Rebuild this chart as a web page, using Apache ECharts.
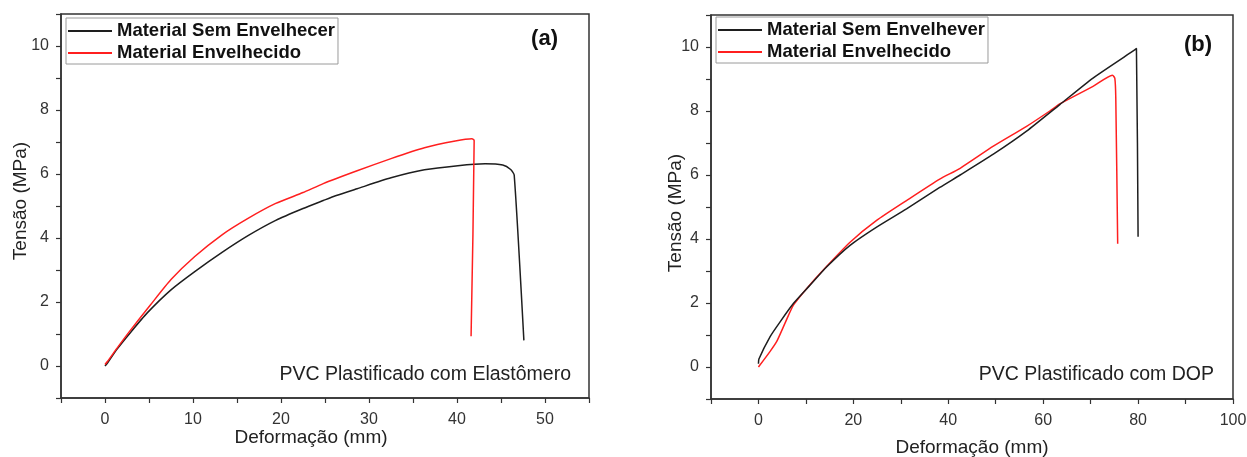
<!DOCTYPE html>
<html><head><meta charset="utf-8">
<script src="https://cdn.jsdelivr.net/npm/echarts@6/dist/echarts.min.js"></script>
<style>html,body{margin:0;padding:0;background:#fff}#c{width:1247px;height:457px}</style>
</head><body><div id="c"></div>
<script>
const FONT = '"Liberation Sans", Arial, Helvetica, sans-serif';

// ---- Data ----
const seriesNamesA = ['Material Sem Envelhecer', 'Material Envelhecido'];
const seriesNamesB = ['Material Sem Envelhever', 'Material Envelhecido'];

// (a) PVC plastificado com elastômero
const aSemX = [0, 0.3, 1.35, 2.9, 4.8, 7.5, 10.2, 13.3, 16.3, 19.4, 22.5, 24.8, 26.2, 28.65, 32.5, 36.3, 40.1, 43.2, 45.2, 46.1, 46.5, 47.6];
const aSemY = [0, 0.1, 0.52, 1.05, 1.66, 2.38, 2.95, 3.55, 4.08, 4.55, 4.92, 5.17, 5.32, 5.54, 5.88, 6.13, 6.26, 6.32, 6.28, 6.14, 5.97, 0.8];
const aEnvX = [0, 0.3, 1.35, 2.9, 5.2, 7.5, 10.2, 13.3, 16.3, 19.4, 22.5, 24.8, 28.65, 32.5, 36.3, 39.8, 41.7, 41.95, 41.6];
const aEnvY = [0.05, 0.15, 0.55, 1.12, 1.92, 2.7, 3.42, 4.1, 4.62, 5.08, 5.42, 5.7, 6.1, 6.48, 6.82, 7.03, 7.1, 7.05, 0.93];

// (b) PVC plastificado com DOP
const bSemX = [0, 0.1, 2.46, 4.6, 7.4, 10.9, 14.4, 19.3, 24.9, 31.2, 38.2, 42.5, 49.5, 56.5, 63.5, 70.5, 79.5, 79.65, 80.0];
const bSemY = [0.1, 0.25, 0.95, 1.42, 1.99, 2.56, 3.13, 3.8, 4.37, 4.94, 5.61, 6.0, 6.65, 7.37, 8.2, 9.03, 9.93, 9.95, 4.07];
const bEnvX = [0, 2.46, 3.86, 5.6, 7.4, 10.9, 14.4, 19.3, 24.9, 31.2, 38.2, 42.5, 49.5, 56.5, 61.4, 63.5, 70.5, 74.6, 75.1, 75.3, 75.7];
const bEnvY = [0, 0.49, 0.8, 1.37, 1.94, 2.58, 3.15, 3.9, 4.58, 5.2, 5.87, 6.21, 6.9, 7.52, 8.0, 8.22, 8.77, 9.12, 9.02, 8.4, 3.85];

// tick labels
const xTicksA = [0, 10, 20, 30, 40, 50];
const xTicksB = [0, 20, 40, 60, 80, 100];
const yTicks = [0, 2, 4, 6, 8, 10];

const notes = ['PVC Plastificado com Elastômero', 'PVC Plastificado com DOP'];
const panelLabels = ['(a)', '(b)'];
const xName = 'Deformação (mm)';
const yName = 'Tensão (MPa)';

const BLACK = '#1e1e1e';
const RED = '#ff1f1f';
const AX = '#333';

function zip(xs, ys) { return xs.map((x, i) => [x, ys[i]]); }

function xAxis(gi, min, max, interval, ticks, nameGap, namePadding) {
  return {
    type: 'value', gridIndex: gi, min, max, interval,
    name: xName, nameLocation: 'middle', nameGap, nameMoveOverlap: false,
    nameTextStyle: { fontSize: 19, color: '#222', fontFamily: FONT, padding: namePadding },
    axisLine: { show: true, onZero: false, lineStyle: { color: AX, width: 1.5 } },
    axisTick: { show: true, inside: false, length: 5, lineStyle: { color: AX, width: 1.2 } },
    splitLine: { show: false },
    axisLabel: { fontSize: 16, color: '#333', margin: 14, fontFamily: FONT,
      formatter: v => ticks.includes(Math.round(v * 1000) / 1000) ? String(Math.round(v)) : '' }
  };
}
function yAxis(gi, nameGap, namePadding) {
  return {
    type: 'value', gridIndex: gi, min: -1, max: 11, interval: 1,
    name: yName, nameLocation: 'middle', nameGap, nameMoveOverlap: false,
    nameTextStyle: { fontSize: 19, color: '#222', fontFamily: FONT, padding: namePadding },
    axisLine: { show: true, onZero: false, lineStyle: { color: AX, width: 1.5 } },
    axisTick: { show: true, inside: false, length: 5, lineStyle: { color: AX, width: 1.2 } },
    splitLine: { show: false },
    axisLabel: { fontSize: 16, color: '#333', margin: 12, fontFamily: FONT,
      formatter: v => yTicks.includes(Math.round(v * 1000) / 1000) ? String(Math.round(v)) : '' }
  };
}
function legend(names, left, top) {
  return {
    data: names, left, top, orient: 'vertical',
    borderColor: '#9a9a9a', borderWidth: 1, padding: [3, 3, 1, 2],
    icon: 'rect', itemGap: 2, itemWidth: 44, itemHeight: 2, backgroundColor: '#fff',
    textStyle: { fontSize: 18.5, fontWeight: 'bold', color: '#111', fontFamily: FONT, lineHeight: 20 }
  };
}
function line(name, data, color, gi, z) {
  return {
    type: 'line', name, data, xAxisIndex: gi, yAxisIndex: gi,
    showSymbol: false, symbol: 'none', smooth: 0.2, z,
    lineStyle: { color, width: 1.5 }, itemStyle: { color }, animation: false
  };
}

const chart = echarts.init(document.getElementById('c'), null, { renderer: 'canvas' });
chart.setOption({
  animation: false,
  backgroundColor: '#fff',
  grid: [
    { left: 61, top: 14, width: 528, height: 384, show: true, borderColor: AX, borderWidth: 1.5, backgroundColor: 'transparent', outerBoundsMode: 'none', containLabel: false },
    { left: 711, top: 15, width: 522, height: 384, show: true, borderColor: AX, borderWidth: 1.5, backgroundColor: 'transparent', outerBoundsMode: 'none', containLabel: false }
  ],
  xAxis: [
    xAxis(0, -5, 55, 5, xTicksA, 30, [0, 28, 0, 0]),
    xAxis(1, -10, 100, 10, xTicksB, 39, [0, 0, 0, 0])
  ],
  yAxis: [yAxis(0, 31, [0, 0, 0, 10]), yAxis(1, 26, [0, 12, 0, 0])],
  legend: [legend(seriesNamesA, 66, 18), legend(seriesNamesB, 716, 17)],
  series: [
    line(seriesNamesA[0], zip(aSemX, aSemY), BLACK, 0, 2),
    line(seriesNamesA[1], zip(aEnvX, aEnvY), RED, 0, 3),
    line(seriesNamesB[1], zip(bEnvX, bEnvY), RED, 1, 2),
    line(seriesNamesB[0], zip(bSemX, bSemY), BLACK, 1, 3)
  ],
  graphic: [
    { type: 'text', x: 571, y: 375, style: { text: notes[0], fontSize: 19.5, fontFamily: FONT, fill: '#222', align: 'right', verticalAlign: 'middle' } },
    { type: 'text', x: 1214, y: 375, style: { text: notes[1], fontSize: 19.5, fontFamily: FONT, fill: '#222', align: 'right', verticalAlign: 'middle' } },
    { type: 'text', x: 558, y: 39, style: { text: panelLabels[0], fontSize: 22, fontWeight: 'bold', fontFamily: FONT, fill: '#111', align: 'right', verticalAlign: 'middle' } },
    { type: 'text', x: 1212, y: 45, style: { text: panelLabels[1], fontSize: 22, fontWeight: 'bold', fontFamily: FONT, fill: '#111', align: 'right', verticalAlign: 'middle' } }
  ]
});
</script>
</body></html>
